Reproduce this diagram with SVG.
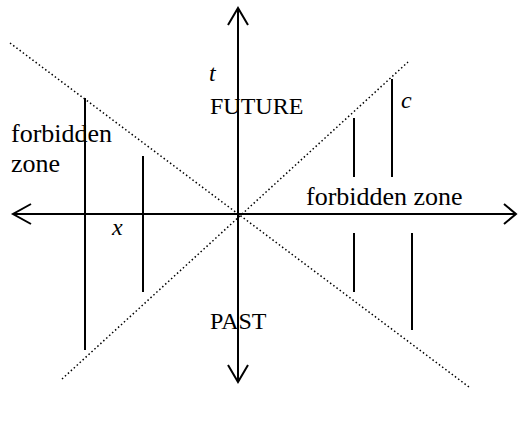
<svg xmlns="http://www.w3.org/2000/svg" width="518" height="428" viewBox="0 0 518 428">
<style>
.ax{stroke:#000;stroke-width:2;fill:none}
.ln{stroke:#000;stroke-width:2;fill:none}
.dot{stroke:#000;stroke-width:1.5;stroke-dasharray:1.5 2.5;fill:none}
text{font-family:"Liberation Serif","Times New Roman",serif;font-size:24px;fill:#000}
.it{font-style:italic}
.lw{font-size:26px}
</style>
<rect width="518" height="428" fill="#fff"/>
<g id="connectors">
<line class="dot" x1="10" y1="43" x2="469" y2="387"/>
<line class="dot" x1="62" y1="379" x2="408" y2="62"/>
<line class="ax" x1="238" y1="8" x2="238" y2="382"/>
<polyline class="ax" points="228,25 238,8 248,25"/>
<polyline class="ax" points="228,365 238,382 248,365"/>
<line class="ax" x1="13" y1="214" x2="516" y2="214"/>
<polyline class="ax" points="31,204 13,214 31,224"/>
<polyline class="ax" points="504,204 516,214 504,224"/>
<line class="ln" x1="85" y1="98" x2="85" y2="350"/>
<line class="ln" x1="143" y1="156" x2="143" y2="292"/>
<line class="ln" x1="354" y1="118" x2="354" y2="177"/>
<line class="ln" x1="392" y1="79" x2="392" y2="177"/>
<line class="ln" x1="354" y1="233" x2="354" y2="292"/>
<line class="ln" x1="412" y1="233" x2="412" y2="330"/>
</g>
<g id="labels">
<text class="it" x="209" y="81">t</text>
<text x="210" y="114">FUTURE</text>
<text class="it" x="401" y="108">c</text>
<text class="lw" x="11" y="142">forbidden</text>
<text class="lw" x="11" y="172">zone</text>
<text class="it" x="112" y="235">x</text>
<text class="lw" x="306" y="205">forbidden zone</text>
<text x="210" y="329">PAST</text>
</g>
</svg>
